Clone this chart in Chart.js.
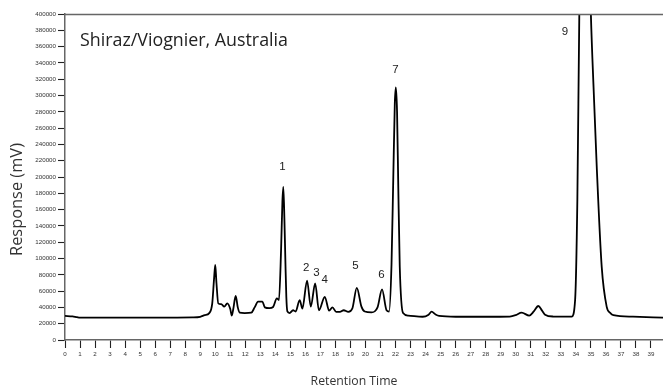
<!DOCTYPE html>
<html>
<head>
<meta charset="utf-8">
<script src="https://cdn.jsdelivr.net/npm/chart.js@4"></script>
<style>
  html, body { margin: 0; padding: 0; background: #fff; }
  #wrap { width: 663px; height: 388px; }
</style>
</head>
<body>
<div id="wrap"><canvas id="c" width="663" height="388"></canvas></div>
<script>
// Retention time (min)
const times = [
  0, 0.5, 0.8, 1.0, 3, 6, 8.5, 9.0, 9.3, 9.6, 9.8, 9.92, 10.0, 10.08, 10.2, 10.4, 10.6, 10.8, 11.0, 11.1,
  11.2, 11.36, 11.5, 11.63, 11.96, 12.4, 12.62, 12.85, 13.14, 13.3, 13.6, 13.85, 14.1, 14.24, 14.38, 14.47,
  14.53, 14.6, 14.67, 14.73, 14.8, 14.95, 15.18, 15.35, 15.62, 15.8, 16.11, 16.36, 16.65, 16.9, 17.29, 17.58,
  17.8, 18.05, 18.3, 18.55, 18.85, 19.13, 19.42, 19.73, 19.95, 20.4, 20.8, 21.1, 21.4, 21.57, 21.73, 21.85,
  21.95, 22.02, 22.1, 22.18, 22.28, 22.5, 22.84, 23.8, 24.2, 24.4, 24.65, 24.9, 26, 28, 29.6, 30.0, 30.39,
  30.9, 31.2, 31.5, 31.75, 31.95, 32.5, 33.72, 33.95, 34.1, 34.23, 34.4, 34.6, 34.8, 35.0, 35.2, 35.39, 35.72,
  36.05, 36.3, 36.5, 37.8, 39.8
];
// Response (mV)
const responses = [
  29500, 29000, 28000, 27500, 27500, 27500, 27800, 28500, 30500, 33000, 45000, 75000, 92000, 70000, 45000, 44000, 41000, 45000, 38000, 30000,
  38000, 54000, 40000, 33500, 33000, 33500, 40000, 47000, 47000, 40000, 39000, 40500, 51000, 49000, 110000, 170000,
  188000, 150000, 95000, 53000, 35000, 33000, 36500, 35000, 49000, 38500, 72800, 41000, 69500, 36500, 53000, 36000,
  40000, 34500, 34500, 36500, 34500, 39000, 64000, 41000, 35000, 34000, 40000, 62000, 36500, 35000, 92000, 200000,
  290000, 310000, 280000, 190000, 90000, 33000, 30000, 28500, 31000, 34700, 31500, 29500, 28500, 28500, 28800, 30500, 33500,
  30000, 35000, 41700, 36000, 31000, 28800, 28600, 49000, 172000, 400000, 580000, 630000, 560000, 400000, 300000, 212600, 90000,
  41000, 33000, 30500, 28600, 27500
];
// Peak annotations
const peakLabels = ["1", "2", "3", "4", "5", "6", "7", "9"];
const peakLabelTimes = [14.47, 16.06, 16.73, 17.28, 19.33, 21.06, 22.0, 33.27];
const peakLabelValues = [212000, 88000, 83000, 73500, 91000, 80500, 331000, 378000];

const chartTitle = "Shiraz/Viognier, Australia";
const xTitle = "Retention Time";
const yTitle = "Response (mV)";
const xMin = 0, xMax = 39.8, xStep = 1;
const yMin = 0, yMax = 400000, yStep = 20000;

const points = times.map((t, i) => ({ x: t, y: responses[i] }));

function fitFont(ctx, text, targetWidth, family) {
  ctx.font = '20px ' + family;
  const w = ctx.measureText(text).width;
  return 20 * targetWidth / w;
}

const decor = {
  id: 'decor',
  afterDraw(chart) {
    const ctx = chart.ctx;
    const a = chart.chartArea;
    const xs = chart.scales.x, ys = chart.scales.y;
    ctx.save();
    // top frame line
    ctx.strokeStyle = '#666';
    ctx.lineWidth = 1.4;
    ctx.beginPath();
    ctx.moveTo(a.left, a.top + 0.5);
    ctx.lineTo(chart.width, a.top + 0.5);
    ctx.stroke();

    const fam = '"Open Sans", "Noto Sans", sans-serif';
    ctx.fillStyle = '#222';
    // chart title
    let fs = fitFont(ctx, chartTitle, 208, fam);
    ctx.font = fs.toFixed(2) + 'px ' + fam;
    ctx.textAlign = 'left';
    ctx.textBaseline = 'alphabetic';
    ctx.fillText(chartTitle, 80, 45.5);

    // x title
    ctx.fillStyle = '#333';
    fs = fitFont(ctx, xTitle, 87, fam);
    ctx.font = fs.toFixed(2) + 'px ' + fam;
    ctx.textAlign = 'center';
    ctx.fillText(xTitle, 354, 384.5);

    // y title
    fs = fitFont(ctx, yTitle, 113, fam);
    ctx.font = fs.toFixed(2) + 'px ' + fam;
    ctx.save();
    ctx.translate(21.5, 199.5);
    ctx.rotate(-Math.PI / 2);
    ctx.textAlign = 'center';
    ctx.fillText(yTitle, 0, 0);
    ctx.restore();

    // peak labels
    ctx.font = '11.5px "Liberation Sans", Arial, sans-serif';
    ctx.fillStyle = '#222';
    ctx.textAlign = 'center';
    ctx.textBaseline = 'middle';
    peakLabels.forEach((lab, i) => {
      ctx.fillText(lab, xs.getPixelForValue(peakLabelTimes[i]), ys.getPixelForValue(peakLabelValues[i]));
    });
    ctx.restore();
  }
};

new Chart(document.getElementById('c'), {
  type: 'line',
  data: {
    datasets: [{
      data: points,
      borderColor: '#000',
      borderWidth: 1.8,
      pointRadius: 0,
      fill: false,
      cubicInterpolationMode: 'monotone'
    }]
  },
  options: {
    responsive: false,
    animation: false,
    devicePixelRatio: 1,
    layout: { padding: { top: 14, right: 0, left: 0, bottom: 0 } },
    plugins: { legend: { display: false }, tooltip: { enabled: false }, title: { display: false } },
    scales: {
      x: {
        type: 'linear',
        min: xMin, max: xMax,
        afterFit(s) { s.height = 48; },
        border: { display: true, color: '#666', width: 1.5 },
        grid: { drawOnChartArea: false, drawTicks: true, tickLength: 8, tickColor: '#222', tickWidth: 1.1 },
        ticks: {
          stepSize: xStep, includeBounds: false, autoSkip: false, maxRotation: 0,
          padding: 3, color: '#333',
          callback: (v) => String(v),
          font: { size: 6.2, family: '"Liberation Sans", Arial, sans-serif' }
        }
      },
      y: {
        type: 'linear',
        min: yMin, max: yMax,
        afterFit(s) { s.width = 65; },
        border: { display: true, color: '#666', width: 1.5 },
        grid: { drawOnChartArea: false, drawTicks: true, tickLength: 7, tickColor: '#222', tickWidth: 1.1 },
        ticks: {
          stepSize: yStep, autoSkip: false, padding: 2, color: '#333',
          callback: (v) => String(v),
          font: { size: 6.2, family: '"Liberation Sans", Arial, sans-serif' }
        }
      }
    }
  },
  plugins: [decor]
});
</script>
</body>
</html>
